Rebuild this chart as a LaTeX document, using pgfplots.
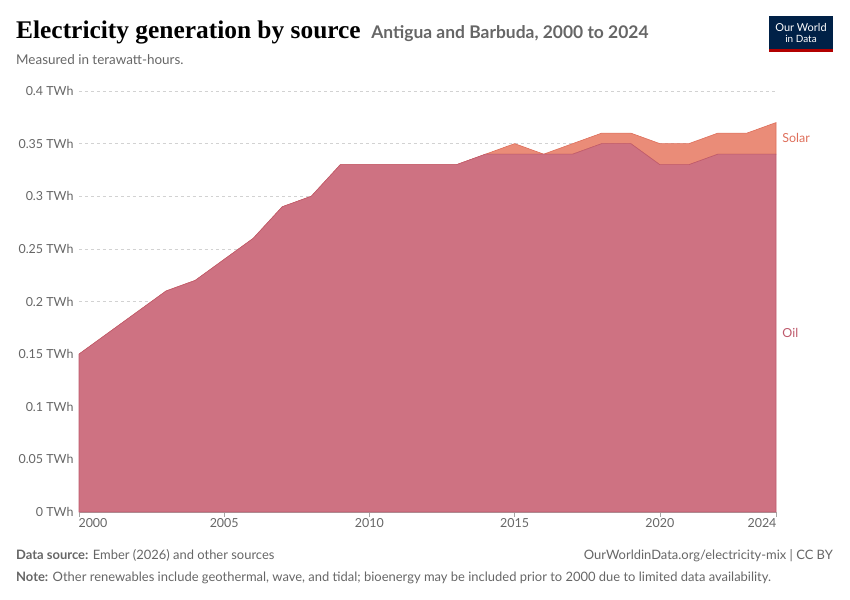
\documentclass[border=0pt]{standalone}
\usepackage{pgfplots}
\pgfplotsset{compat=1.18}
\usepackage{fontspec}
\setmainfont{Lato}
\newfontfamily\titlefont{Liberation Serif}
\definecolor{oilc}{RGB}{206,114,130}
\definecolor{oiledge}{RGB}{190,90,108}
\definecolor{solc}{RGB}{234,140,120}
\definecolor{soledge}{RGB}{222,110,90}
\definecolor{txt}{RGB}{102,102,102}
\definecolor{owid}{RGB}{0,33,71}
\begin{document}
\begin{tikzpicture}
\path[use as bounding box] (0bp,0bp) rectangle (850bp,600bp);
\node[anchor=base west,inner sep=0] at (16bp,561bp) {\titlefont\fontsize{25.5}{27}\selectfont\bfseries Electricity generation by source \fontsize{17.5}{19}\selectfont\mdseries\color{txt}\fontspec{Lato}\bfseries\ Antigua and Barbuda, 2000 to 2024};
\node[anchor=base west,inner sep=0,text=txt] at (16bp,535bp) {\fontsize{13.5}{15}\selectfont Measured in terawatt-hours.};
\fill[owid] (769bp,548bp) rectangle (833bp,584bp);
\fill[red!70!black] (769bp,548bp) rectangle (833bp,550.5bp);
\node[text=white,align=center,inner sep=0] at (801bp,567bp) {\fontsize{11}{12}\selectfont Our World\\in Data};
\begin{axis}[at={(79bp,88bp)},anchor=south west,scale only axis,width=697bp,height=421bp,
 xmin=0,xmax=24,ymin=0,ymax=0.4,
 stack plots=y,
 axis line style={draw=none},
 xtick={5,10,15,20},
 xticklabels={2005,2010,2015,2020},
 ytick={0,0.05,0.1,0.15,0.2,0.25,0.3,0.35,0.4},
 yticklabels={0 TWh,0.05 TWh,0.1 TWh,0.15 TWh,0.2 TWh,0.25 TWh,0.3 TWh,0.35 TWh,0.4 TWh},
 ymajorgrids,grid style={dashed,gray!35},
 major tick length=0,
 tick label style={text=txt,font=\fontsize{12.5}{13}\selectfont},
 yticklabel style={xshift=-2bp},
 xticklabel style={yshift=-3bp},
 clip=false]
\addplot[fill=oilc,draw=oiledge,line width=0.6pt] coordinates {
(0,0.15)(1,0.17)(2,0.19)(3,0.21)(4,0.22)(5,0.24)(6,0.26)(7,0.29)(8,0.30)(9,0.33)(10,0.33)(11,0.33)(12,0.33)(13,0.33)(14,0.34)(15,0.34)(16,0.34)(17,0.34)(18,0.35)(19,0.35)(20,0.33)(21,0.33)(22,0.34)(23,0.34)(24,0.34)} \closedcycle;
\addplot[fill=solc,draw=soledge,line width=0.6pt] coordinates {
(0,0)(1,0)(2,0)(3,0)(4,0)(5,0)(6,0)(7,0)(8,0)(9,0)(10,0)(11,0)(12,0)(13,0)(14,0)(15,0.01)(16,0)(17,0.01)(18,0.01)(19,0.01)(20,0.02)(21,0.02)(22,0.02)(23,0.02)(24,0.03)} \closedcycle;
\draw[gray!70] (axis cs:0,0) -- (axis cs:24,0);
\draw[gray!70] (axis cs:0,0) -- ++(0,-5bp);
\draw[gray!70] (axis cs:5,0) -- ++(0,-5bp);
\draw[gray!70] (axis cs:10,0) -- ++(0,-5bp);
\draw[gray!70] (axis cs:15,0) -- ++(0,-5bp);
\draw[gray!70] (axis cs:20,0) -- ++(0,-5bp);
\draw[gray!70] (axis cs:24,0) -- ++(0,-5bp);
\node[anchor=north,text=txt,font=\fontsize{12.5}{13}\selectfont,xshift=14bp,yshift=-3bp] at (axis cs:0,0) {2000};
\node[anchor=north,text=txt,font=\fontsize{12.5}{13}\selectfont,xshift=-14bp,yshift=-3bp] at (axis cs:24,0) {2024};
\node[anchor=west,text=soledge,font=\fontsize{12.5}{13}\selectfont] at (axis cs:24.1,0.355) {Solar};
\node[anchor=west,text=oiledge,font=\fontsize{12.5}{13}\selectfont] at (axis cs:24.1,0.17) {Oil};
\end{axis}
\node[anchor=base west,text=txt,inner sep=0] at (16bp,40bp) {\fontsize{13}{14}\selectfont\textbf{Data source:} Ember (2026) and other sources};
\node[anchor=base east,text=txt,inner sep=0] at (833bp,40bp) {\fontsize{13}{14}\selectfont OurWorldinData.org/electricity-mix | CC BY};
\node[anchor=base west,text=txt,inner sep=0] at (16bp,19bp) {\fontsize{13}{14}\selectfont\textbf{Note:} Other renewables include geothermal, wave, and tidal; bioenergy may be included prior to 2000 due to limited data availability.};
\end{tikzpicture}
\end{document}
